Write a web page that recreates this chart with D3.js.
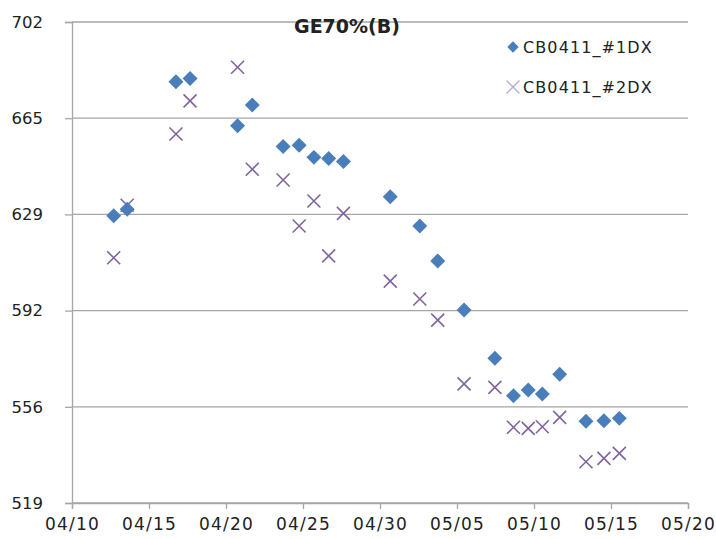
<!DOCTYPE html>
<html>
<head>
<meta charset="utf-8">
<script src="https://cdn.jsdelivr.net/npm/d3@7"></script>
<style>
  body { margin: 0; background: #fff; }
  text { font-family: "DejaVu Sans", "Open Sans", sans-serif; fill: #222; }
</style>
</head>
<body>
<script>
// shared sample times (month/day hour)
let dates = ["04/12 17", "04/13 14", "04/16 18", "04/17 16", "04/20 18", "04/21 17",
    "04/23 17", "04/24 18", "04/25 17", "04/26 16", "04/27 15", "04/30 16",
    "05/02 14", "05/03 18", "05/05 11", "05/07 11", "05/08 16", "05/09 15",
    "05/10 13", "05/11 16", "05/13 09", "05/14 13", "05/15 13"];
let dx1 = [628.3, 630.8, 679.3, 680.5, 662.5, 670.4, 654.6, 655.1, 650.5, 650.1, 648.9, 635.5,
    624.4, 611.1, 592.4, 574.1, 559.8, 562.0, 560.5, 568.0, 550.1, 550.3, 551.2];
let dx2 = [612.3, 632.3, 659.4, 672.0, 684.8, 646.0, 641.9, 624.4, 633.9, 613.0, 629.2, 603.4,
    596.6, 588.6, 564.3, 563.0, 547.8, 547.4, 548.0, 551.6, 534.7, 536.0, 537.9];
let seriesNames = ["CB0411_#1DX", "CB0411_#2DX"];
let yTicks = [519, 555.6, 592.2, 628.8, 665.4, 702];
let xTickDates = ["04/10", "04/15", "04/20", "04/25", "04/30", "05/05", "05/10", "05/15", "05/20"];
let title = "GE70%(B)";

let W = 716, H = 539;
let margin = {top: 22, right: 28, bottom: 36, left: 72};
let parseT = d3.timeParse("%m/%d %H");
let parseD = d3.timeParse("%m/%d");

let svg = d3.select("body").append("svg")
    .attr("width", W).attr("height", H);

let x = d3.scaleTime()
    .domain([parseD(xTickDates[0]), parseD(xTickDates[xTickDates.length - 1])])
    .range([margin.left, W - margin.right]);
let y = d3.scaleLinear()
    .domain([yTicks[0], yTicks[yTicks.length - 1]])
    .range([H - margin.bottom, margin.top]);

// gridlines + y axis
let yAxis = svg.append("g")
    .attr("transform", "translate(" + margin.left + ",0)")
    .call(d3.axisLeft(y).tickValues(yTicks).tickFormat(d3.format(".0f")).tickSize(7).tickPadding(22));
yAxis.select(".domain").attr("stroke", "#a6a6a6").attr("stroke-width", 1.3);
yAxis.selectAll(".tick line").attr("stroke", "#a6a6a6").attr("stroke-width", 1.3);
yAxis.selectAll(".tick text").style("font-size", "16.5px").attr("fill", "#1a1a1a");

svg.append("g").selectAll("line")
    .data(yTicks).enter().append("line")
    .attr("x1", margin.left).attr("x2", W - margin.right)
    .attr("y1", d => y(d)).attr("y2", d => y(d))
    .attr("stroke", "#a6a6a6").attr("stroke-width", 1.3);

// x axis
let xAxis = svg.append("g")
    .attr("transform", "translate(0," + (H - margin.bottom) + ")")
    .call(d3.axisBottom(x).tickValues(xTickDates.map(parseD)).tickFormat(d3.timeFormat("%m/%d")).tickSize(6).tickPadding(9));
xAxis.select(".domain").attr("stroke", "#a6a6a6").attr("stroke-width", 1.3);
xAxis.selectAll(".tick line").attr("stroke", "#a6a6a6").attr("stroke-width", 1.3);
xAxis.selectAll(".tick text").style("font-size", "17px").style("letter-spacing", "1.2px").attr("fill", "#1a1a1a");

let diamond = d3.symbol().type(d3.symbolSquare).size(112);
let cross = function (r) {
    return "M" + (-r) + "," + (-r) + "L" + r + "," + r + "M" + (-r) + "," + r + "L" + r + "," + (-r);
};

// series 2 (x marks)
svg.append("g").selectAll("path")
    .data(dates.map((d, i) => ({t: parseT(d), v: dx2[i]}))).enter().append("path")
    .attr("d", cross(6.5))
    .attr("transform", d => "translate(" + x(d.t) + "," + y(d.v) + ")")
    .attr("fill", "none").attr("stroke", "#8064a2").attr("stroke-width", 1.6);

// series 1 (diamonds)
svg.append("g").selectAll("path")
    .data(dates.map((d, i) => ({t: parseT(d), v: dx1[i]}))).enter().append("path")
    .attr("d", diamond)
    .attr("transform", d => "translate(" + x(d.t) + "," + y(d.v) + ") rotate(45)")
    .attr("fill", "#4a7ebb");

// title
svg.append("text")
    .attr("x", 347).attr("y", 33)
    .attr("text-anchor", "middle")
    .style("font-size", "19px").style("font-weight", "bold")
    .attr("fill", "#111")
    .text(title);

// legend
let lg = svg.append("g").attr("transform", "translate(513,47)");
lg.append("path").attr("d", d3.symbol().type(d3.symbolSquare).size(64))
    .attr("transform", "rotate(45)").attr("fill", "#4a7ebb");
lg.append("path").attr("d", cross(6.5)).attr("transform", "translate(0,40)")
    .attr("fill", "none").attr("stroke", "#b7a9d3").attr("stroke-width", 1.3);
lg.selectAll("text").data(seriesNames).enter().append("text")
    .attr("x", 10).attr("y", (d, i) => i * 40 + 6)
    .style("font-size", "16px").style("letter-spacing", "1.1px").attr("fill", "#1a1a1a")
    .text(d => d);
</script>
</body>
</html>
